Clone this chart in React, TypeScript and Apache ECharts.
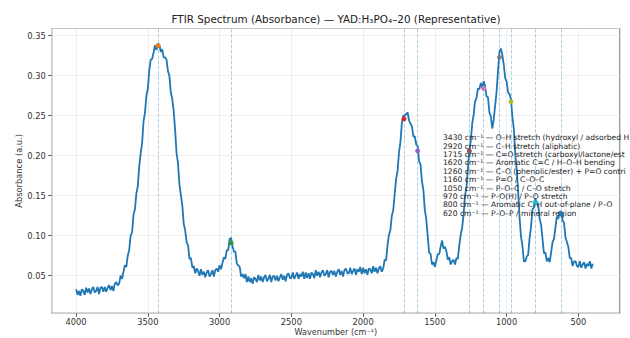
import { useEffect, useRef } from "react";
import * as echarts from "echarts";

const startWavenumber = 4000;
const stepWavenumber = 10;
const absorbance = [
  // 4000–3910
  0.033, 0.026, 0.031, 0.025, 0.033, 0.031, 0.026, 0.035, 0.029, 0.034,
  // 3900–3810
  0.027, 0.033, 0.036, 0.029, 0.031, 0.036, 0.027, 0.035, 0.036, 0.030,
  // 3800–3710
  0.036, 0.030, 0.035, 0.038, 0.032, 0.037, 0.031, 0.040, 0.042, 0.038,
  // 3700–3610
  0.040, 0.050, 0.046, 0.055, 0.063, 0.061, 0.075, 0.082, 0.100, 0.104,
  // 3600–3510
  0.126, 0.133, 0.153, 0.162, 0.187, 0.203, 0.216, 0.243, 0.254, 0.275,
  // 3500–3410
  0.284, 0.307, 0.320, 0.321, 0.329, 0.338, 0.332, 0.340, 0.339, 0.330,
  // 3400–3310
  0.333, 0.323, 0.323, 0.320, 0.306, 0.300, 0.279, 0.271, 0.256, 0.232,
  // 3300–3210
  0.203, 0.191, 0.164, 0.151, 0.138, 0.115, 0.107, 0.092, 0.088, 0.071,
  // 3200–3110
  0.072, 0.060, 0.062, 0.053, 0.059, 0.056, 0.050, 0.058, 0.051, 0.055,
  // 3100–3010
  0.048, 0.054, 0.057, 0.049, 0.052, 0.057, 0.049, 0.057, 0.059, 0.055,
  // 3000–2910
  0.063, 0.058, 0.066, 0.073, 0.071, 0.082, 0.082, 0.096, 0.097, 0.087,
  // 2900–2810
  0.080, 0.080, 0.065, 0.063, 0.061, 0.049, 0.052, 0.047, 0.052, 0.042,
  // 2800–2710
  0.049, 0.042, 0.047, 0.040, 0.048, 0.046, 0.042, 0.051, 0.044, 0.049,
  // 2700–2610
  0.042, 0.048, 0.051, 0.043, 0.046, 0.051, 0.042, 0.049, 0.050, 0.044,
  // 2600–2510
  0.050, 0.043, 0.048, 0.052, 0.045, 0.050, 0.043, 0.051, 0.053, 0.047,
  // 2500–2410
  0.047, 0.054, 0.046, 0.050, 0.054, 0.046, 0.052, 0.049, 0.055, 0.046,
  // 2400–2310
  0.054, 0.047, 0.053, 0.046, 0.054, 0.052, 0.047, 0.057, 0.050, 0.055,
  // 2300–2210
  0.048, 0.054, 0.057, 0.050, 0.052, 0.057, 0.048, 0.055, 0.056, 0.051,
  // 2200–2110
  0.056, 0.049, 0.055, 0.058, 0.051, 0.056, 0.049, 0.057, 0.059, 0.053,
  // 2100–2010
  0.053, 0.060, 0.052, 0.056, 0.059, 0.051, 0.058, 0.055, 0.061, 0.052,
  // 2000–1910
  0.060, 0.053, 0.058, 0.051, 0.059, 0.058, 0.053, 0.062, 0.055, 0.060,
  // 1900–1810
  0.053, 0.059, 0.062, 0.055, 0.059, 0.070, 0.069, 0.088, 0.101, 0.107,
  // 1800–1710
  0.125, 0.132, 0.152, 0.171, 0.181, 0.204, 0.217, 0.241, 0.250, 0.250,
  // 1700–1610
  0.252, 0.254, 0.244, 0.240, 0.237, 0.224, 0.224, 0.214, 0.212, 0.193,
  // 1600–1510
  0.189, 0.168, 0.157, 0.132, 0.121, 0.100, 0.079, 0.077, 0.064, 0.067,
  // 1500–1410
  0.061, 0.069, 0.077, 0.077, 0.086, 0.094, 0.084, 0.086, 0.081, 0.070,
  // 1400–1310
  0.073, 0.064, 0.068, 0.070, 0.064, 0.072, 0.071, 0.088, 0.101, 0.110,
  // 1300–1210
  0.126, 0.150, 0.160, 0.184, 0.208, 0.218, 0.240, 0.251, 0.268, 0.272,
  // 1200–1110
  0.284, 0.283, 0.291, 0.285, 0.293, 0.287, 0.274, 0.273, 0.254, 0.249,
  // 1100–1010
  0.234, 0.245, 0.263, 0.280, 0.306, 0.330, 0.334, 0.326, 0.314, 0.297,
  // 1000–910
  0.293, 0.279, 0.277, 0.271, 0.249, 0.234, 0.202, 0.183, 0.156, 0.123,
  // 900–810
  0.099, 0.088, 0.068, 0.068, 0.074, 0.076, 0.097, 0.111, 0.133, 0.135,
  // 800–710
  0.147, 0.140, 0.139, 0.121, 0.114, 0.096, 0.078, 0.079, 0.068, 0.072,
  // 700–610
  0.067, 0.079, 0.092, 0.096, 0.110, 0.124, 0.121, 0.130, 0.130, 0.119,
  // 600–510
  0.116, 0.098, 0.092, 0.086, 0.072, 0.072, 0.062, 0.068, 0.068, 0.062,
  // 500–410
  0.061, 0.068, 0.060, 0.064, 0.067, 0.059, 0.065, 0.062, 0.068, 0.059,
  // 400
  0.065,
];

const peakWavenumbers = [3430, 2920, 1715, 1620, 1260, 1160, 1050, 970, 800, 620];
const peakValues = [0.3375, 0.091, 0.246, 0.206, 0.206, 0.284, 0.323, 0.2675, 0.1416, 0.127];
// Assignment texts as far as they are visible in the figure (the figure edge cuts three of them)
const peakAssignments = [
  "O–H stretch (hydroxyl / adsorbed H",
  "C–H stretch (aliphatic)",
  "C=O stretch (carboxyl/lactone/est",
  "Aromatic C=C / H–O–H bending",
  "C–O (phenolic/ester) + P=O contri",
  "P=O / C–O–C",
  "P–O–C / C–O stretch",
  "P–O(H) / P–O stretch",
  "Aromatic C–H out-of-plane / P–O",
  "P–O–P / mineral region",
];
const peakColors = [
  "#ff7f0e", "#2ca02c", "#d62728", "#9467bd", "#8c564b",
  "#e377c2", "#7f7f7f", "#bcbd22", "#17becf", "#1f77b4",
];

const titleText = "FTIR Spectrum (Absorbance) — YAD:H₃PO₄–20 (Representative)";
const xAxisTitle = "Wavenumber (cm⁻¹)";
const yAxisTitle = "Absorbance (a.u.)";

const FONT = "DejaVu Sans";

export default function App() {
  const ref = useRef<HTMLDivElement>(null);

  useEffect(() => {
    if (!ref.current) return;
    const chart = echarts.init(ref.current, undefined, { renderer: "svg" });

    const spectrum = absorbance.map((v, i) => [startWavenumber - i * stepWavenumber, v]);
    const labels = peakWavenumbers.map((w, i) => `${w} cm⁻¹ — ${peakAssignments[i]}`);

    const option: any = {
      animation: false,
      backgroundColor: "#ffffff",
      textStyle: { fontFamily: FONT },
      title: {
        text: titleText,
        left: 336,
        textAlign: "center",
        top: 14,
        padding: 0,
        textStyle: { fontFamily: FONT, fontSize: 10.4, fontWeight: "normal", color: "#222" },
      },
      legend: {
        orient: "vertical",
        left: 438,
        top: 133.5,
        padding: 0,
        itemGap: 0,
        itemWidth: 0,
        itemHeight: 8,
        icon: "none",
        selectedMode: false,
        data: labels,
        textStyle: { fontFamily: FONT, fontSize: 7.6, color: "#222", lineHeight: 8.4 },
      },
      grid: {
        left: 51.7,
        right: 10,
        top: 28.5,
        bottom: 24.7,
        containLabel: false,
        outerBoundsMode: "none",
        show: true,
        borderColor: "#333",
        borderWidth: 1,
        backgroundColor: "transparent",
      },
      xAxis: {
        type: "value",
        inverse: true,
        min: 210,
        max: 4170,
        splitNumber: 8,
        axisLine: { show: false },
        axisTick: { show: true, length: 3.5, lineStyle: { color: "#333", width: 0.8 } },
        axisLabel: {
          showMinLabel: false,
          showMaxLabel: false,
          fontFamily: FONT,
          fontSize: 8.3,
          lineHeight: 9,
          color: "#333",
          margin: 4,
          formatter: (v: number) => String(v),
        },
        splitLine: { show: true, lineStyle: { color: "#ebebeb", width: 0.8 } },
        name: xAxisTitle,
        nameLocation: "middle",
        nameGap: 14.5,
        nameMoveOverlap: false,
        nameTextStyle: { fontFamily: FONT, fontSize: 8.1, color: "#333", verticalAlign: "top", lineHeight: 9 },
      },
      yAxis: {
        type: "value",
        min: 0.003,
        max: 0.359,
        splitNumber: 7,
        axisLine: { show: false },
        axisTick: { show: true, length: 3.5, lineStyle: { color: "#333", width: 0.8 } },
        axisLabel: {
          showMinLabel: false,
          showMaxLabel: false,
          fontFamily: FONT,
          fontSize: 8.3,
          color: "#333",
          margin: 6,
          formatter: (v: number) => v.toFixed(2),
        },
        splitLine: { show: true, lineStyle: { color: "#ebebeb", width: 0.8 } },
        name: yAxisTitle,
        nameLocation: "middle",
        nameGap: 29,
        nameMoveOverlap: false,
        nameRotate: 90,
        nameTextStyle: { fontFamily: FONT, fontSize: 8.3, color: "#333" },
      },
      series: [
        {
          type: "line",
          name: "spectrum",
          data: spectrum,
          showSymbol: false,
          symbol: "none",
          silent: true,
          z: 2,
          lineStyle: { color: "#1f77b4", width: 1.8 },
          itemStyle: { color: "#1f77b4" },
        },
        {
          type: "line",
          name: "peak guides",
          data: [],
          silent: true,
          z: 3,
          markLine: {
            silent: true,
            symbol: ["none", "none"],
            label: { show: false },
            lineStyle: { color: "rgba(31,119,180,0.35)", type: [3.7, 1.6], width: 1 },
            emphasis: { disabled: true },
            data: peakWavenumbers.map((w) => ({ xAxis: w })),
          },
        },
        ...peakWavenumbers.map((w, i) => ({
          type: "scatter",
          name: labels[i],
          data: [[w, peakValues[i]]],
          symbol: "circle",
          symbolSize: 5,
          silent: true,
          z: 4,
          itemStyle: { color: peakColors[i], opacity: 1 },
        })),
      ],
    };

    chart.setOption(option);
    return () => chart.dispose();
  }, []);

  return (
    <div
      ref={ref}
      style={{ position: "fixed", left: 0, top: 0, width: 630, height: 338 }}
    />
  );
}
